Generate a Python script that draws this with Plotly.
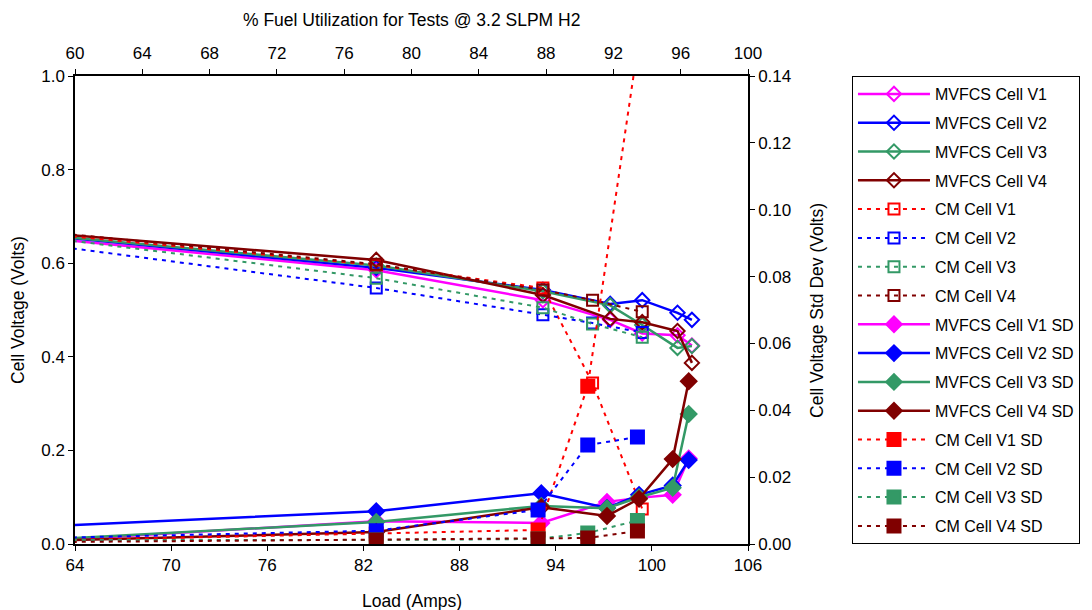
import plotly.graph_objects as go

# ---- data ----
x_mv = [63.3, 82.8, 93.2, 97.4, 99.4, 101.6, 102.5]
mv_v1 = [0.650, 0.585, 0.521, 0.479, 0.450, 0.446, 0.424]
mv_v2 = [0.655, 0.590, 0.543, 0.513, 0.521, 0.494, 0.479]
mv_v3 = [0.656, 0.595, 0.540, 0.510, 0.468, 0.419, 0.423]
mv_v4 = [0.661, 0.607, 0.532, 0.481, 0.474, 0.455, 0.387]

x_cm = [63.3, 82.8, 93.2, 96.3, 99.4]
cm_v1 = [0.659, 0.596, 0.547, 0.344, 0.075]
cm_v2 = [0.634, 0.547, 0.490, 0.472, 0.452]
cm_v3 = [0.650, 0.568, 0.505, 0.470, 0.442]
cm_v4 = [0.663, 0.598, 0.543, 0.521, 0.496]

x_mvsd = [63.3, 82.8, 93.1, 97.2, 99.2, 101.3, 102.3]
mv_sd1 = [0.0013, 0.0068, 0.0063, 0.0126, 0.0138, 0.0147, 0.0256]
mv_sd2 = [0.0055, 0.0098, 0.0152, 0.0108, 0.0147, 0.0175, 0.0251]
mv_sd3 = [0.0016, 0.0066, 0.0114, 0.0107, 0.0140, 0.0168, 0.0389]
mv_sd4 = [0.0011, 0.0036, 0.0110, 0.0084, 0.0135, 0.0254, 0.0487]

x_cmsd = [63.3, 82.8, 92.9, 96.0, 99.1]
cm_sd1 = [0.0011, 0.0030, 0.0042, 0.0472, 0.148]
cm_sd2 = [0.0019, 0.0040, 0.0102, 0.0296, 0.0320]
cm_sd3 = [0.0012, 0.0012, 0.0015, 0.0033, 0.0070]
cm_sd4 = [0.0006, 0.0012, 0.0015, 0.0018, 0.0039]

fuel_util_range = [60, 100]

colors = ["#FF00FF", "#0000FF", "#339966", "#800000"]
cm_colors = ["#FF0000", "#0000FF", "#339966", "#800000"]
FONT = "Liberation Sans, Arial, sans-serif"
FS = 17
DASH = "4px,5px"

fig = go.Figure()

def add(name, x, y, color, dash, symbol, size, yaxis, lw):
    fig.add_trace(go.Scatter(
        x=x, y=y, name=name, mode="lines+markers", yaxis=yaxis,
        legendgroup=name,
        line=dict(color=color, width=lw, dash=dash),
        marker=dict(symbol=symbol, size=size, color=color,
                    line=dict(color=color, width=2)),
    ))

for i, y in enumerate([mv_v1, mv_v2, mv_v3, mv_v4]):
    add(f"MVFCS Cell V{i+1}", x_mv, y, colors[i], "solid", "diamond-open", 11, "y", 2.5)
for i, y in enumerate([cm_v1, cm_v2, cm_v3, cm_v4]):
    add(f"CM Cell V{i+1}", x_cm, y, cm_colors[i], DASH, "square-open", 11, "y", 2)
for i, y in enumerate([mv_sd1, mv_sd2, mv_sd3, mv_sd4]):
    add(f"MVFCS Cell V{i+1} SD", x_mvsd, y, colors[i], "solid", "diamond", 12, "y2", 2.5)
for i, y in enumerate([cm_sd1, cm_sd2, cm_sd3, cm_sd4]):
    add(f"CM Cell V{i+1} SD", x_cmsd, y, cm_colors[i], DASH, "square", 13, "y2", 2)

# invisible carrier so the top (fuel utilization) axis is drawn
fig.add_trace(go.Scatter(x=fuel_util_range, y=[-1, -1], xaxis="x2", yaxis="y",
                         mode="markers", marker=dict(opacity=0), showlegend=False,
                         hoverinfo="skip"))

axis_common = dict(showgrid=False, zeroline=False, showline=True, linecolor="black",
                   linewidth=1.5, ticks="outside", ticklen=5, tickcolor="black",
                   tickfont=dict(size=FS, color="black", family=FONT))

title_font = dict(size=17.5, family=FONT, color="black")
annotations = [
    dict(text="Load (Amps)", xref="paper", yref="paper", x=0.5, y=-0.1218,
         showarrow=False, font=title_font, xanchor="center", yanchor="middle"),
    dict(text="% Fuel Utilization for Tests @ 3.2 SLPM H2", xref="paper", yref="paper",
         x=0.5, y=1.1197, showarrow=False, font=title_font, xanchor="center", yanchor="middle"),
    dict(text="Cell Voltage (Volts)", xref="paper", yref="paper", x=-0.0847, y=0.5,
         textangle=-90, showarrow=False, font=title_font, xanchor="center", yanchor="middle"),
    dict(text="Cell Voltage Std Dev (Volts)", xref="paper", yref="paper", x=1.1025, y=0.5,
         textangle=-90, showarrow=False, font=title_font, xanchor="center", yanchor="middle"),
]

fig.update_layout(
    width=1092, height=610,
    margin=dict(l=75, r=344, t=76, b=66),
    paper_bgcolor="white", plot_bgcolor="white",
    font=dict(family=FONT, size=FS, color="black"),
    xaxis=dict(range=[64, 106], dtick=6, tick0=64, **axis_common),
    xaxis2=dict(range=fuel_util_range, dtick=4, tick0=60, overlaying="x", side="top", anchor="y",
                ticklabelstandoff=3, **axis_common),
    yaxis=dict(range=[0, 1.0], dtick=0.2, tickformat=".1f", **axis_common),
    yaxis2=dict(range=[0, 0.14], dtick=0.02, tickformat=".2f", overlaying="y", side="right",
                anchor="x", **axis_common),
    annotations=annotations,
    showlegend=True,
    legend=dict(x=1.1545, y=1.0, xanchor="left", yanchor="top",
                bordercolor="black", borderwidth=1, bgcolor="white",
                font=dict(size=16, family=FONT, color="black"),
                traceorder="grouped", tracegroupgap=5, itemwidth=72, maxheight=520),
)

fig.write_html("out.html")
